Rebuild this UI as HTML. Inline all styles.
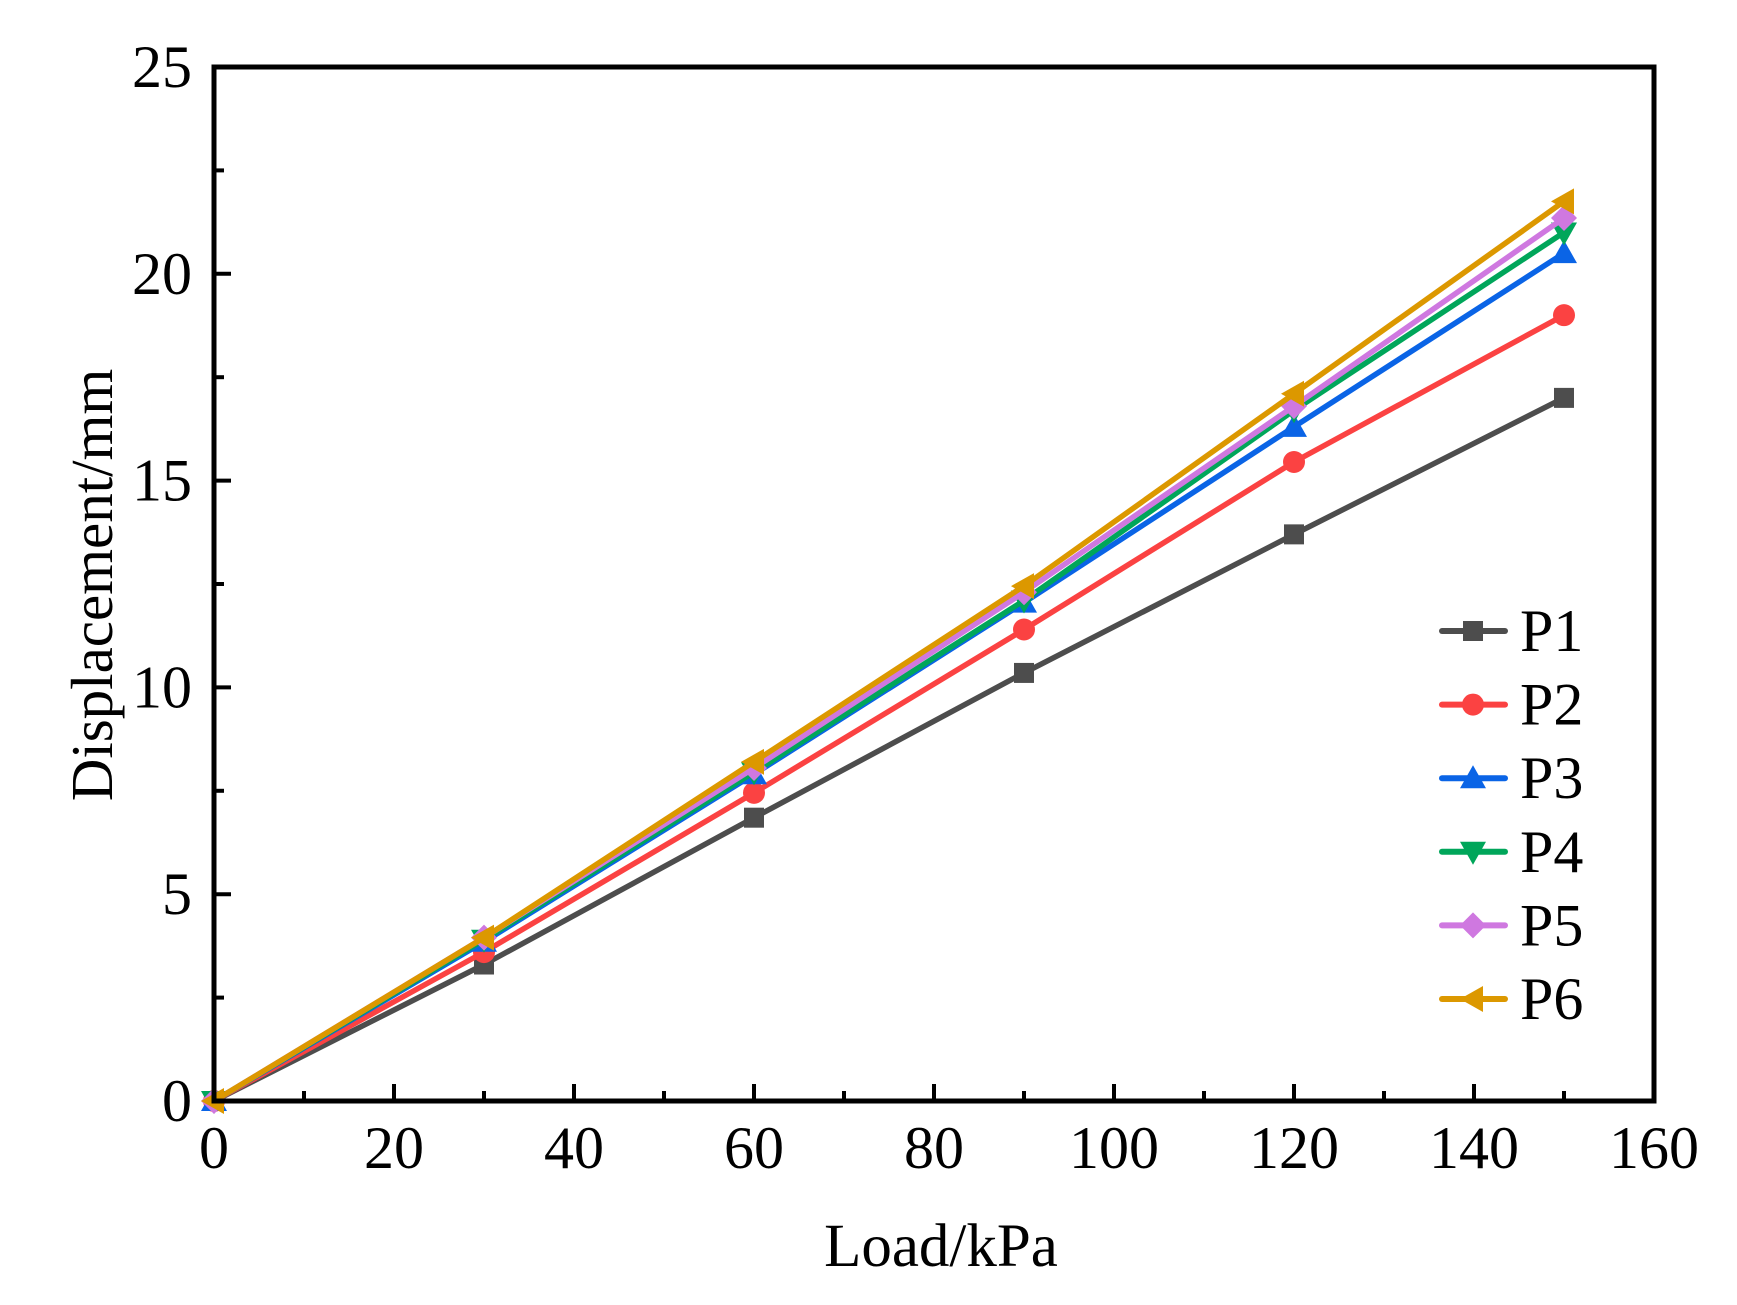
<!DOCTYPE html>
<html><head><style>body{margin:0;background:#fff}svg{display:block}</style></head><body>
<svg xmlns="http://www.w3.org/2000/svg" width="1737" height="1305" viewBox="0 0 1737 1305" font-family="Liberation Serif, serif">
<rect width="1737" height="1305" fill="#fff"/>
<g id="ticks" stroke="#000" stroke-width="4"></g>
<g id="series" stroke-width="5.5" fill="none" stroke-linejoin="round" stroke-linecap="round"></g>
<rect x="214" y="67" width="1440" height="1034" fill="none" stroke="#000" stroke-width="5"/>
<g font-size="60" fill="#000" id="labels"></g>
<text x="941" y="1266" font-size="61" text-anchor="middle">Load/kPa</text>
<text transform="translate(112,585) rotate(-90)" font-size="59" text-anchor="middle">Displacement/mm</text>
<g id="legend" font-size="60"></g>
<script>
var L=214,B=1101,sx=9.0,sy=41.36;
function X(v){return L+v*sx}function Y(v){return B-v*sy}
var ns="http://www.w3.org/2000/svg";
function el(p,t,a,txt){var e=document.createElementNS(ns,t);for(var k in a)e.setAttribute(k,a[k]);if(txt!==undefined)e.textContent=txt;document.getElementById(p).appendChild(e);return e}
for(var v=0;v<=160;v+=10){var len=v%20==0?17:10;el('ticks','line',{x1:X(v),x2:X(v),y1:B,y2:B-len});if(v%20==0)el('labels','text',{x:X(v),y:1168,'text-anchor':'middle'},v)}
for(var v=0;v<=25;v+=2.5){var len=v%5==0?17:10;el('ticks','line',{x1:L,x2:L+len,y1:Y(v),y2:Y(v)});if(v%5==0)el('labels','text',{x:192,y:Y(v)+20,'text-anchor':'end'},v)}
var xs=[0,30,60,90,120,150];
var S=[
["P1","#4d4d4d",[0,3.3,6.85,10.35,13.7,17],"sq"],
["P2","#fb4242",[0,3.6,7.45,11.4,15.45,19],"ci"],
["P3","#0a64e6",[0,3.85,7.9,12.05,16.3,20.5],"tu"],
["P4","#00a65a",[0,3.9,7.95,12.1,16.7,21],"td"],
["P5","#cf78e0",[0,3.95,8.05,12.3,16.8,21.35],"di"],
["P6","#dc9800",[0,3.95,8.2,12.45,17.1,21.75],"tl"]];
function mk(g,t,x,y,c){var r=10;
if(t=="sq")el(g,'rect',{x:x-r,y:y-r,width:2*r,height:2*r,fill:c,stroke:'none'});
else if(t=="ci")el(g,'circle',{cx:x,cy:y,r:11,fill:c,stroke:'none'});
else{var p;if(t=="tu")p=[[x,y-13],[x+13,y+10],[x-13,y+10]];
if(t=="td")p=[[x,y+13],[x+13,y-10],[x-13,y-10]];
if(t=="di")p=[[x,y-13],[x+13,y],[x,y+13],[x-13,y]];
if(t=="tl")p=[[x-13,y],[x+10,y-13],[x+10,y+13]];
el(g,'polygon',{points:p.map(function(q){return q.join(',')}).join(' '),fill:c,stroke:'none'});}}
S.forEach(function(s,i){var pts=xs.map(function(x,j){return X(x)+','+Y(s[2][j])}).join(' ');
el('series','polyline',{points:pts,stroke:s[1]});
xs.forEach(function(x,j){mk('series',s[3],X(x),Y(s[2][j]),s[1])});
var ly=631+i*73.6;
el('legend','line',{x1:1442,x2:1505,y1:ly,y2:ly,stroke:s[1],'stroke-width':6,'stroke-linecap':'round'});
mk('legend',s[3],1473,ly,s[1]);
el('legend','text',{x:1520,y:ly+20,fill:'#000'},s[0]);});
</script>
</svg>
</body></html>
